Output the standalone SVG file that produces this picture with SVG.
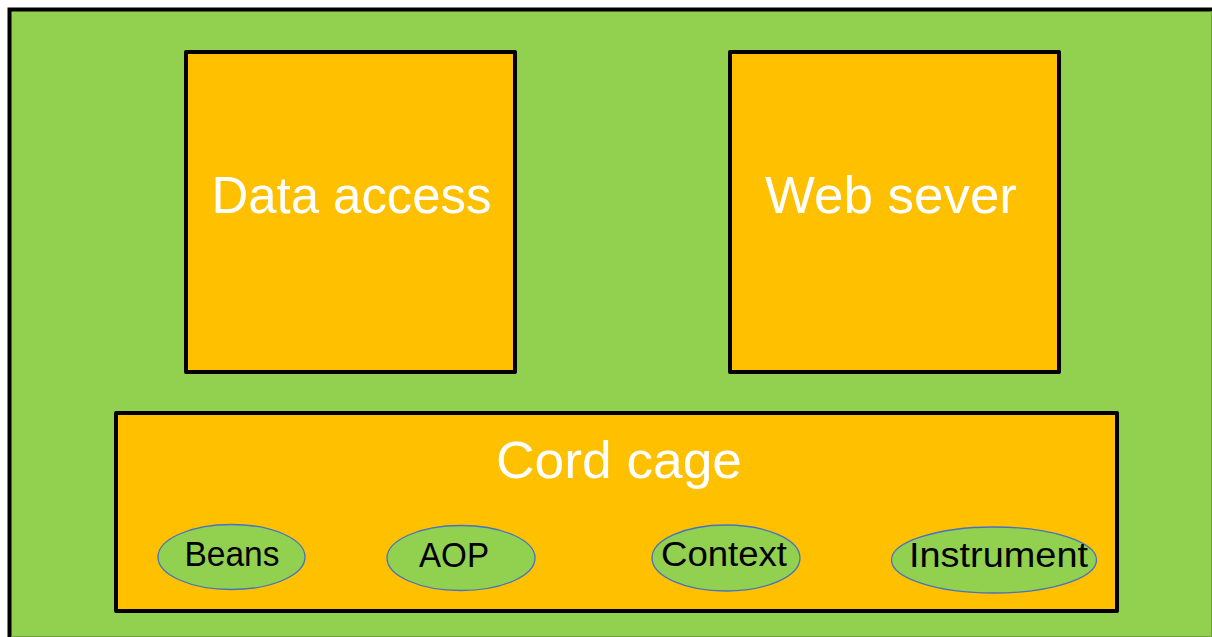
<svg xmlns="http://www.w3.org/2000/svg" width="1212" height="637" viewBox="0 0 1212 637">
<style>
.box{fill:#ffc000;stroke:#000;stroke-width:4;stroke-linejoin:round}
.big{font-family:"Liberation Sans",Arial,sans-serif;fill:#fff;font-size:52px;text-anchor:middle}
.ell{fill:#92d050;stroke:#4472c4;stroke-width:1.3}
.small{font-family:"Liberation Sans",Arial,sans-serif;fill:#000;font-size:35px;text-anchor:middle}
</style>
<rect x="0" y="0" width="1212" height="637" fill="#fff"/>
<g id="background">
<rect x="9.5" y="9.5" width="1210" height="640" fill="#92d050" stroke="#000" stroke-width="4"/>
<line x1="1211.5" y1="11" x2="1211.5" y2="637" stroke="#6fa03c" stroke-width="1"/>
<line x1="11" y1="636.5" x2="1212" y2="636.5" stroke="#6fa03c" stroke-width="1"/>
</g>
<g id="data-access">
<rect class="box" x="186" y="52" width="329" height="320"/>
<text class="big" x="351.5" y="213" textLength="280" lengthAdjust="spacingAndGlyphs">Data access</text>
</g>
<g id="web-sever">
<rect class="box" x="730" y="52" width="329" height="320"/>
<text class="big" x="891" y="213" textLength="252" lengthAdjust="spacingAndGlyphs">Web sever</text>
</g>
<g id="card-cage">
<rect class="box" x="116" y="413" width="1001" height="198"/>
<text class="big" x="619" y="478" textLength="246" lengthAdjust="spacingAndGlyphs">Cord cage</text>
</g>
<g id="beans">
<ellipse class="ell" cx="231.5" cy="557" rx="73.5" ry="32.5"/>
<text class="small" x="232" y="566" textLength="95" lengthAdjust="spacingAndGlyphs">Beans</text>
</g>
<g id="aop">
<ellipse class="ell" cx="461" cy="558" rx="74" ry="32.5"/>
<text class="small" x="454" y="567" textLength="70" lengthAdjust="spacingAndGlyphs">AOP</text>
</g>
<g id="context">
<ellipse class="ell" cx="726" cy="558" rx="74" ry="33"/>
<text class="small" x="724" y="566" textLength="126" lengthAdjust="spacingAndGlyphs">Context</text>
</g>
<g id="instrument">
<ellipse class="ell" cx="994" cy="560" rx="102.5" ry="33"/>
<text class="small" x="998.5" y="567" textLength="179" lengthAdjust="spacingAndGlyphs">Instrument</text>
</g>
<g id="connectors"></g>
</svg>
